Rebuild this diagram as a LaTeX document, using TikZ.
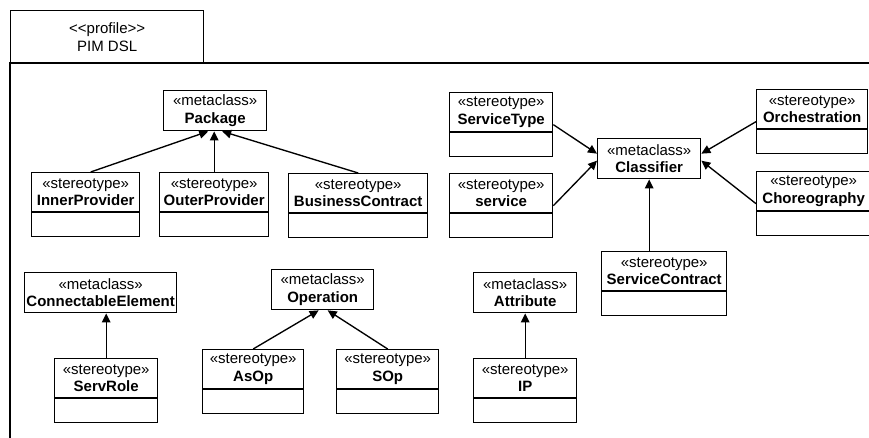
\documentclass[tikz,border=0pt]{standalone}
\usepackage{fontspec}
\setmainfont{Liberation Sans}
\usetikzlibrary{arrows.meta}

% class box with the stereotype header only
\newcommand\metabox[5]{%
  \node[box, minimum width=#4pt, minimum height=40pt, anchor=north west,
        align=center] (#1) at (#2,#3) {«metaclass»\\\textbf{#5}};}

% stereotype box: header with name plus an empty compartment below
\newcommand\stbox[5]{%
  \node[box, minimum width=#4pt, minimum height=64pt, anchor=north west]
        (#1) at (#2,#3) {};
  \node[lbl, anchor=north] (#1-t) at (#1.north) {«stereotype»\\\textbf{#5}};
  \draw[edge] ([yshift=-40pt]#1.north west) -- ([yshift=-40pt]#1.north east);}

\begin{document}
\begin{tikzpicture}[x=1pt, y=-1pt,
  every node/.style={font=\fontsize{15}{17.5}\selectfont},
  edge/.style={line width=1.35pt},
  box/.style={draw, line width=1.35pt, rectangle, inner sep=0pt},
  lbl/.style={inner sep=0pt, minimum height=40pt, align=center},
  gen/.style={line width=1.35pt, -{Triangle[length=9pt,width=8.5pt]}},
]
\useasboundingbox (0,0) rectangle (869,438);
\clip (0,0) rectangle (869,438);

% profile frame
\node[box, minimum width=193pt, minimum height=53pt, anchor=north west,
      align=center] (tab) at (10,10) {<\kern0pt<profile>\kern0pt>\\PIM DSL};
\coordinate (fr-bl) at (10,460);
\coordinate (fr-tr) at (890,63);
\draw[edge] (fr-bl) |- (fr-tr);

% Package group
\metabox{pkg}{163}{90}{103}{Package}
\stbox{inner}{31}{172}{108}{InnerProvider}
\stbox{outer}{159}{172}{109}{OuterProvider}
\stbox{bcontract}{288}{173}{139}{BusinessContract}

% Classifier group
\metabox{cls}{597}{138}{103}{Classifier}
\stbox{stype}{449}{92}{103}{ServiceType}
\stbox{service}{449}{173}{103}{service}
\stbox{orch}{756}{89}{111}{Orchestration}
\stbox{chor}{756}{171}{114}{Choreography}
\stbox{scontract}{601}{251}{125}{ServiceContract}

% lower row
\metabox{conn}{24}{272}{152}{ConnectableElement}
\stbox{servrole}{54}{358}{103}{ServRole}
\metabox{op}{271}{269}{102}{Operation}
\stbox{asop}{202}{349}{101}{AsOp}
\stbox{sop}{336}{349}{102}{SOp}
\metabox{attr}{473}{272}{103}{Attribute}
\stbox{ip}{473}{358}{103}{IP}

% extension arrows
\draw[gen] ([xshift=5pt]inner.north) -- ([xshift=-7pt]pkg.south);
\draw[gen] (outer.north) -- (outer.north |- pkg.south);
\draw[gen] (bcontract.north) -- ([xshift=7pt]pkg.south);
\draw[gen] (stype.east) -- ([yshift=5pt]cls.west);
\draw[gen] (service.east) -- ([yshift=-2pt]cls.west);
\draw[gen] (orch.west) -- ([yshift=5pt]cls.east);
\draw[gen] (chor.west) -- ([yshift=-2pt]cls.east);
\draw[gen] (cls.south |- scontract.north) -- (cls.south);
\draw[gen] (servrole.north) -- (servrole.north |- conn.south);
\draw[gen] (asop.north) -- ([xshift=-4pt]op.south);
\draw[gen] (sop.north) -- ([xshift=5pt]op.south);
\draw[gen] (ip.north) -- (ip.north |- attr.south);
\end{tikzpicture}
\end{document}
